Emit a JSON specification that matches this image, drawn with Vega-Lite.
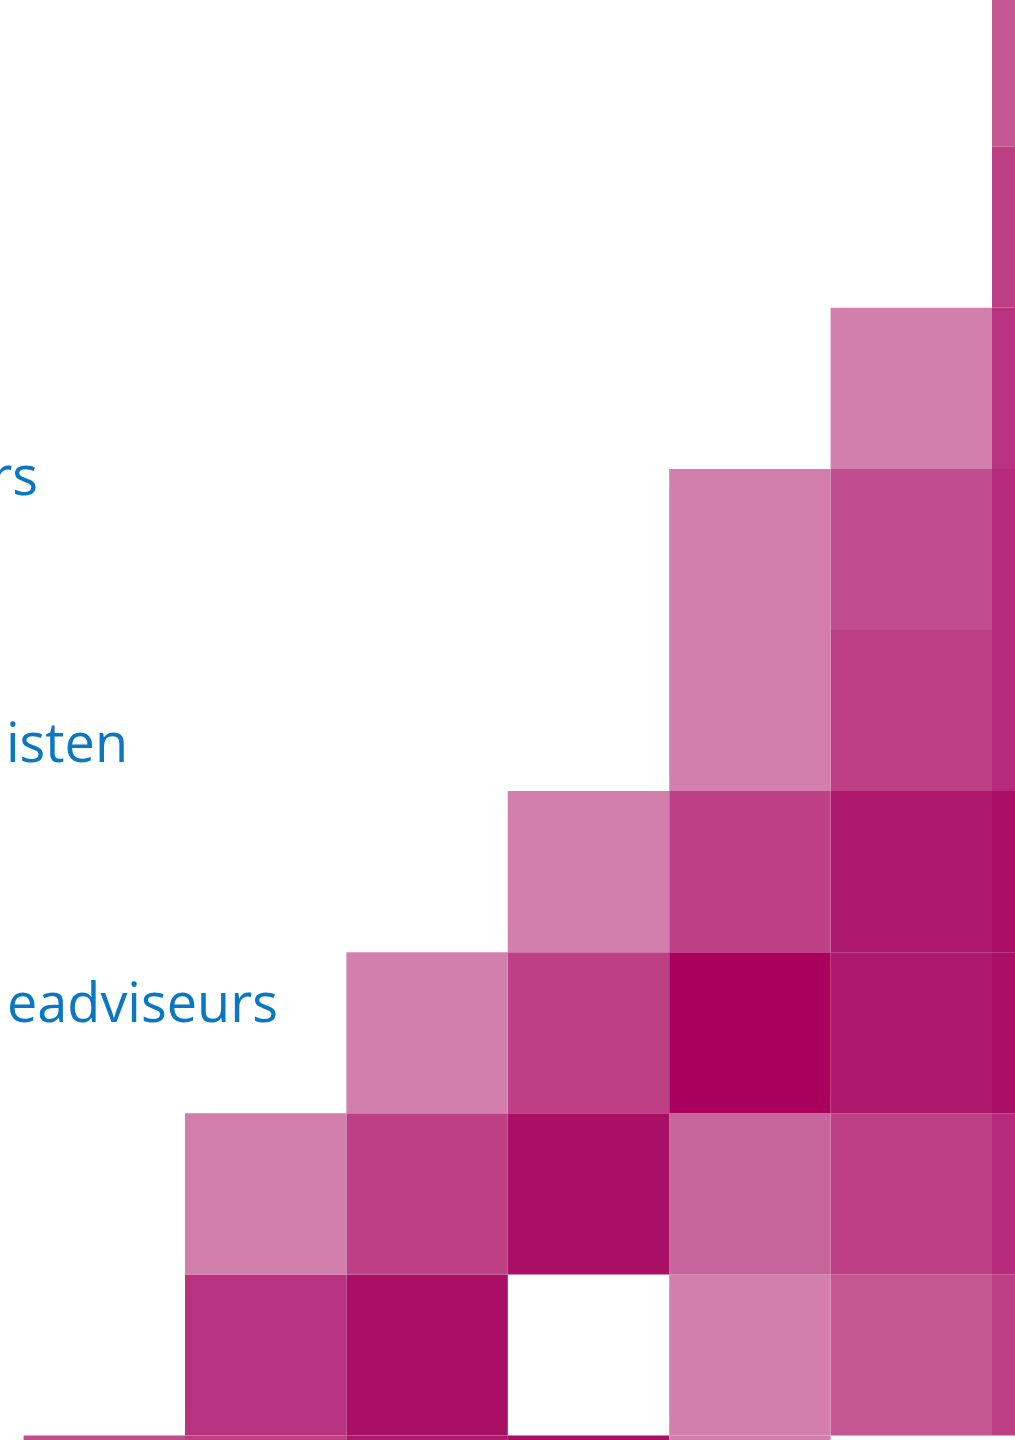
{
  "$schema": "https://vega.github.io/schema/vega-lite/v6.json",
  "autosize": {"type": "none"},
  "width": 1015,
  "height": 1440,
  "padding": 0,
  "background": "white",
  "config": {"view": {"stroke": null}, "axis": {"disable": true}},
  "datasets": {
    "cells": [
      {"c0": 6, "c1": 7, "r0": 0, "r1": 1, "shade": "s5"},
      {"c0": 6, "c1": 7, "r0": 1, "r1": 2, "shade": "s7"},
      {"c0": 6, "c1": 7, "r0": 2, "r1": 3, "shade": "s9"},
      {"c0": 6, "c1": 7, "r0": 3, "r1": 4, "shade": "s9"},
      {"c0": 6, "c1": 7, "r0": 4, "r1": 5, "shade": "s7"},
      {"c0": 6, "c1": 7, "r0": 5, "r1": 6, "shade": "s7"},
      {"c0": 6, "c1": 7, "r0": 6, "r1": 7, "shade": "s6"},
      {"c0": 6, "c1": 7, "r0": 7, "r1": 8, "shade": "s5"},
      {"c0": 6, "c1": 7, "r0": 8, "r1": 9, "shade": "s3"},
      {"c0": 5, "c1": 6, "r0": 0, "r1": 1, "shade": "s3"},
      {"c0": 5, "c1": 6, "r0": 1, "r1": 2, "shade": "s5"},
      {"c0": 5, "c1": 6, "r0": 2, "r1": 3, "shade": "s8"},
      {"c0": 5, "c1": 6, "r0": 3, "r1": 4, "shade": "s8"},
      {"c0": 5, "c1": 6, "r0": 4, "r1": 5, "shade": "s5"},
      {"c0": 5, "c1": 6, "r0": 5, "r1": 6, "shade": "s4"},
      {"c0": 5, "c1": 6, "r0": 6, "r1": 7, "shade": "s1"},
      {"c0": 4, "c1": 5, "r0": 0, "r1": 1, "shade": "s1"},
      {"c0": 4, "c1": 5, "r0": 1, "r1": 2, "shade": "s2"},
      {"c0": 4, "c1": 5, "r0": 2, "r1": 3, "shade": "s10"},
      {"c0": 4, "c1": 5, "r0": 3, "r1": 4, "shade": "s5"},
      {"c0": 4, "c1": 5, "r0": 4, "r1": 5, "shade": "s1"},
      {"c0": 4, "c1": 5, "r0": 5, "r1": 6, "shade": "s1"},
      {"c0": 3, "c1": 4, "r0": 1, "r1": 2, "shade": "s9"},
      {"c0": 3, "c1": 4, "r0": 2, "r1": 3, "shade": "s5"},
      {"c0": 3, "c1": 4, "r0": 3, "r1": 4, "shade": "s1"},
      {"c0": 2, "c1": 3, "r0": 0, "r1": 1, "shade": "s9"},
      {"c0": 2, "c1": 3, "r0": 1, "r1": 2, "shade": "s5"},
      {"c0": 2, "c1": 3, "r0": 2, "r1": 3, "shade": "s1"},
      {"c0": 1, "c1": 2, "r0": 0, "r1": 1, "shade": "s6"},
      {"c0": 1, "c1": 2, "r0": 1, "r1": 2, "shade": "s1"},
      {"c0": 0, "c1": 1, "r0": -1, "r1": 0, "shade": "s4"},
      {"c0": 1, "c1": 2, "r0": -1, "r1": 0, "shade": "s5"},
      {"c0": 2, "c1": 3, "r0": -1, "r1": 0, "shade": "s8"},
      {"c0": 3, "c1": 4, "r0": -1, "r1": 0, "shade": "s9"},
      {"c0": 4, "c1": 5, "r0": -1, "r1": 0, "shade": "s1"}
    ],
    "labels": [
      {"label": "rs", "xe": 0.089, "yb": 5.838},
      {"label": "isten", "xe": 0.647, "yb": 4.181},
      {"label": "eadviseurs", "xe": 1.576, "yb": 2.567}
    ]
  },
  "layer": [
    {
      "data": {"name": "cells"},
      "mark": {"type": "rect", "clip": true, "strokeWidth": 0},
      "encoding": {
        "x": {"field": "c0", "type": "quantitative", "scale": {"domain": [-0.1462, 6.1425], "nice": false, "zero": false}, "axis": null},
        "x2": {"field": "c1"},
        "y": {"field": "r0", "type": "quantitative", "scale": {"domain": [-0.0279, 8.9106], "nice": false, "zero": false}, "axis": null},
        "y2": {"field": "r1"},
        "color": {
          "field": "shade", "type": "nominal", "legend": null,
          "scale": {
            "domain": ["s1", "s2", "s3", "s4", "s5", "s6", "s7", "s8", "s9", "s10"],
            "range": ["#d27fae", "#c7659d", "#c45692", "#c04e8e", "#bd4085", "#b73380", "#b52a7b", "#ad196b", "#a90f65", "#a8005c"]
          }
        }
      }
    },
    {
      "data": {"name": "labels"},
      "mark": {"type": "text", "align": "right", "baseline": "alphabetic", "font": "Open Sans", "fontSize": 54, "color": "#0a77c4"},
      "encoding": {
        "x": {"field": "xe", "type": "quantitative"},
        "y": {"field": "yb", "type": "quantitative"},
        "text": {"field": "label"}
      }
    }
  ]
}
